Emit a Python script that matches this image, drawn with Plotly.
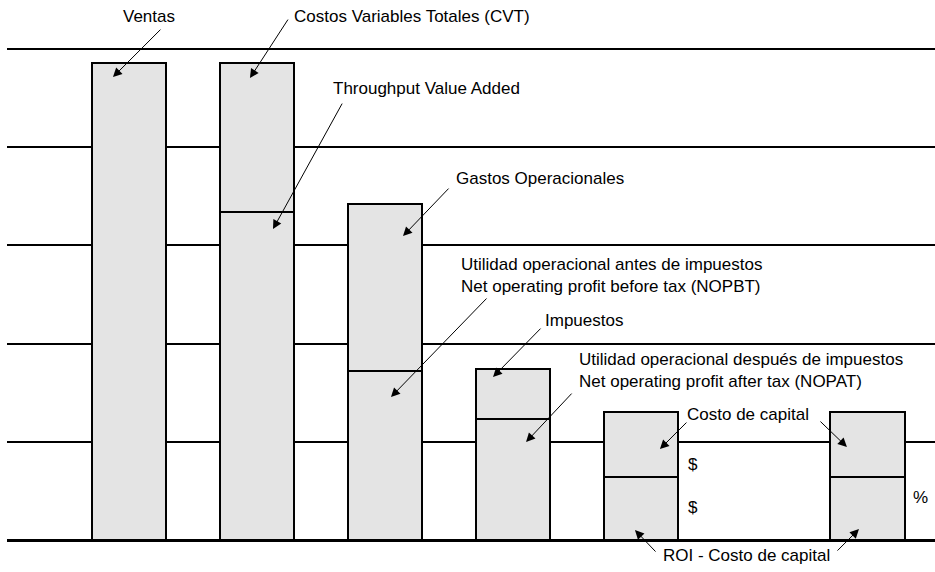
import plotly.graph_objects as go

# ---- data ----
categories = ["Ventas", "CVT / TVA", "Gastos / NOPBT", "Impuestos / NOPAT", "Costo capital ($)", "Costo capital (%)"]
positions = [0, 1, 2, 3, 4, 5.77]
lower_values = [4.86, 3.34, 1.72, 1.23, 0.64, 0.64]
upper_values = [None, 1.52, 1.70, 0.51, 0.66, 0.66]
gridlines = [0, 1, 2, 3, 4, 5]

FILL = "#e4e4e4"
FONT = "Liberation Sans, Arial, Helvetica, sans-serif"
FS = 17

fig = go.Figure()
fig.add_trace(go.Bar(
    x=positions, y=lower_values, base=0, width=0.58,
    marker=dict(color=FILL, line=dict(color="black", width=2)),
    hoverinfo="skip", showlegend=False))
upper_base = [lv for lv in lower_values]
fig.add_trace(go.Bar(
    x=positions, y=upper_values, base=upper_base, width=0.58,
    marker=dict(color=FILL, line=dict(color="black", width=2)),
    hoverinfo="skip", showlegend=False))

# ---- text labels ----
labels = [
    ("Ventas", 0.16, 5.33, "center"),
    ("Costos Variables Totales (CVT)", 1.27, 5.33, "left"),
    ("Throughput Value Added", 1.578, 4.60, "left"),
    ("Gastos Operacionales", 2.54, 3.687, "left"),
    ("Utilidad operacional antes de impuestos", 2.578, 2.81, "left"),
    ("Net operating profit before tax (NOPBT)", 2.578, 2.58, "left"),
    ("Impuestos", 3.234, 2.24, "left"),
    ("Utilidad operacional después de impuestos", 3.50, 1.84, "left"),
    ("Net operating profit after tax (NOPAT)", 3.50, 1.62, "left"),
    ("Costo de capital", 4.34, 1.28, "left"),
    ("$", 4.41, 0.77, "center"),
    ("$", 4.41, 0.33, "center"),
    ("%", 6.18, 0.43, "center"),
    ("ROI - Costo de capital", 4.16, -0.155, "left"),
]
for txt, x, y, anchor in labels:
    fig.add_annotation(x=x, y=y, text=txt, showarrow=False, xanchor=anchor,
                       yanchor="middle", font=dict(family=FONT, size=FS, color="black"))

# ---- arrows (tip in data units, tail offset in pixels) ----
arrows = [
    (-0.125, 4.715, 49, -49),
    (0.945, 4.705, 39, -60),
    (1.125, 3.167, 70, -127),
    (2.141, 3.096, 47, -49),
    (2.047, 1.457, 97, -100),
    (2.844, 1.660, 49, -50),
    (3.102, 0.998, 47, -50),
    (4.148, 0.927, 28, -28),
    (5.609, 0.947, -28, -27),
    (3.953, 0.102, 22, 23),
    (5.703, 0.112, -23, 23),
]
for x, y, ax, ay in arrows:
    fig.add_annotation(x=x, y=y, ax=ax, ay=ay, text="", showarrow=True,
                       arrowhead=2, arrowsize=1.8, arrowwidth=1, arrowcolor="black")

fig.update_layout(
    width=935, height=572,
    margin=dict(l=7, r=0, t=0, b=0, autoexpand=False),
    paper_bgcolor="white", plot_bgcolor="white",
    barmode="overlay", bargap=0,
    showlegend=False,
    xaxis=dict(range=[-0.953, 6.297], showgrid=False, zeroline=False,
               showticklabels=False, showline=False, fixedrange=True),
    yaxis=dict(range=[-0.325, 5.5], tickvals=gridlines, showgrid=True,
               gridcolor="black", gridwidth=2, zeroline=True, zerolinecolor="black",
               zerolinewidth=2.5, showticklabels=False, showline=False, fixedrange=True),
)

fig.write_html("out.html", config={"displayModeBar": False},
               post_script="document.body.style.margin='0px';")
